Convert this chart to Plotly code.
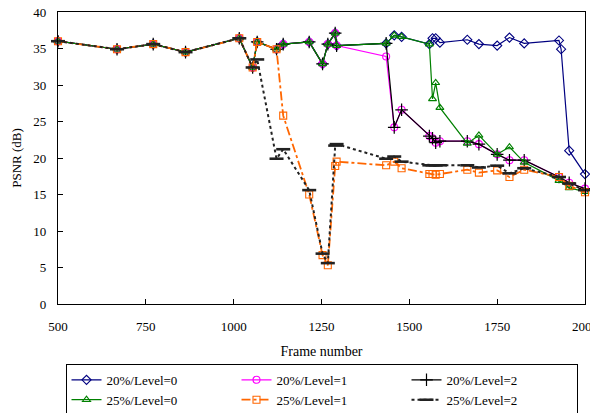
import plotly.graph_objects as go

# Shared leading segment (all series agree until the drops)
frames_common = [500, 668, 771, 863, 1016, 1054]
psnr_common = [36.0, 34.9, 35.6, 34.5, 36.4, 32.4]

frames_a = [1067, 1122, 1141, 1215, 1253, 1268, 1289, 1293, 1434]
psnr_a = [35.9, 34.9, 35.6, 35.9, 32.9, 35.6, 37.1, 35.4, 35.7]

# 20%/Level=0
f_20_0 = [1457, 1478, 1557, 1566, 1575, 1587, 1665, 1698, 1750, 1785, 1827, 1926, 1932, 1955, 2000]
p_20_0 = [36.8, 36.6, 35.6, 36.4, 36.4, 35.8, 36.2, 35.6, 35.4, 36.5, 35.7, 36.1, 34.9, 21.0, 17.8]

# 20%/Level=1 (after 1293)
f_20_1 = [1434, 1457, 1478, 1557, 1566, 1575, 1587, 1665, 1698, 1750, 1785, 1827, 1926, 1955, 2000]
p_20_1 = [33.9, 24.2, 26.6, 23.0, 22.7, 22.1, 22.3, 22.3, 21.9, 20.5, 19.7, 19.7, 17.4, 16.6, 15.8]

# 20%/Level=2 (after 1434)
f_20_2 = [1457, 1478, 1557, 1566, 1575, 1587, 1665, 1698, 1750, 1785, 1827, 1926, 1955, 2000]
p_20_2 = [24.2, 26.6, 23.0, 22.7, 22.1, 22.3, 22.3, 21.9, 20.5, 19.7, 19.7, 17.4, 16.6, 15.8]

# 25%/Level=0 (after 1434)
f_25_0 = [1457, 1478, 1557, 1566, 1575, 1587, 1665, 1698, 1750, 1785, 1827, 1926, 1955, 2000]
p_25_0 = [36.8, 36.6, 35.6, 28.1, 30.3, 26.9, 22.0, 23.1, 20.5, 21.5, 19.4, 16.9, 15.9, 15.4]

# 25%/Level=1 (after 1054)
f_25_1 = [1067, 1122, 1141, 1215, 1253, 1268, 1289, 1293, 1434, 1457, 1478, 1557, 1566, 1575, 1587,
          1665, 1698, 1750, 1785, 1827, 1926, 1955, 2000]
p_25_1 = [35.9, 34.9, 25.8, 15.0, 6.7, 5.3, 18.9, 19.5, 19.0, 19.5, 18.6, 17.8, 17.8, 17.7, 17.8,
          18.4, 18.0, 18.3, 17.4, 18.4, 17.4, 16.2, 15.3]

# 25%/Level=2 (after 1054)
f_25_2 = [1067, 1122, 1141, 1215, 1253, 1268, 1289, 1293, 1434, 1457, 1478, 1557, 1566, 1575, 1587,
          1665, 1698, 1750, 1785, 1827, 1926, 1955, 2000]
p_25_2 = [33.5, 19.9, 21.2, 15.6, 6.9, 5.6, 21.7, 21.9, 19.9, 20.2, 19.5, 19.0, 19.0, 19.0, 19.0,
          19.0, 18.7, 18.95, 17.9, 18.6, 17.4, 16.5, 15.6]

x_ticks = [500, 750, 1000, 1250, 1500, 1750, 2000]
y_ticks = [0, 5, 10, 15, 20, 25, 30, 35, 40]

# Assemble full series
x20_0 = frames_common + frames_a + f_20_0
y20_0 = psnr_common + psnr_a + p_20_0
x20_1 = frames_common + frames_a[:-1] + f_20_1
y20_1 = psnr_common + psnr_a[:-1] + p_20_1
x20_2 = frames_common + frames_a + f_20_2
y20_2 = psnr_common + psnr_a + p_20_2
x25_0 = frames_common + frames_a + f_25_0
y25_0 = psnr_common + psnr_a + p_25_0
x25_1 = frames_common + f_25_1
y25_1 = psnr_common + p_25_1
x25_2 = frames_common + f_25_2
y25_2 = psnr_common + p_25_2

fig = go.Figure()

def add(x, y, name, color, dash, symbol, size, mlw, lw=1.2):
    fig.add_trace(go.Scatter(
        x=x, y=y, name=name, mode="lines+markers",
        line=dict(color=color, width=lw, dash=dash),
        marker=dict(symbol=symbol, size=size, color=color,
                    line=dict(color=color, width=mlw)),
        cliponaxis=False,
    ))

add(x20_0, y20_0, "20%/Level=0", "#000080", "solid", "diamond-open", 7, 1.1)
add(x20_1, y20_1, "20%/Level=1", "#FF00FF", "solid", "circle-open", 7, 1.1)
add(x20_2, y20_2, "20%/Level=2", "#000000", "solid", "cross-thin-open", 9, 1.2)
add(x25_0, y25_0, "25%/Level=0", "#008000", "solid", "triangle-up-open", 7, 1.1)
add(x25_1, y25_1, "25%/Level=1", "#FF6600", "dashdot", "square-open", 7, 1.1, lw=1.8)
add(x25_2, y25_2, "25%/Level=2", "#222222", "dot", "line-ew-open", 10, 2.6, lw=2.0)

font_family = "Liberation Serif"

fig.update_layout(
    width=590, height=413,
    margin=dict(l=58, r=5, t=12, b=109, autoexpand=False),
    paper_bgcolor="white", plot_bgcolor="white",
    font=dict(family=font_family, size=13, color="black"),
    showlegend=True,
    legend=dict(
        orientation="h", x=0.5, xanchor="center", y=-0.205, yanchor="top",
        bordercolor="black", borderwidth=1, bgcolor="white",
        entrywidth=125, entrywidthmode="pixels",
        font=dict(family=font_family, size=13, color="black"),
        tracegroupgap=0, itemsizing="trace",
    ),
)

fig.update_xaxes(
    range=[500, 2000], tickvals=x_ticks, ticktext=[str(v) for v in x_ticks],
    ticks="inside", ticklen=5, tickcolor="black", tickwidth=1,
    showline=True, linecolor="black", linewidth=1.2, mirror=True,
    showgrid=False, zeroline=False, automargin=False,
    ticklabelstandoff=10, ticklabeloverflow="allow",
    title=dict(text="Frame number", standoff=13,
               font=dict(family=font_family, size=14)),
    tickfont=dict(family=font_family, size=13),
)
fig.update_yaxes(
    range=[0, 40], tickvals=y_ticks,
    ticks="inside", ticklen=5, tickcolor="black", tickwidth=1,
    showline=True, linecolor="black", linewidth=1.2, mirror=True,
    showgrid=False, zeroline=False, automargin=False,
    ticklabelstandoff=8, ticklabeloverflow="allow",
    title=dict(text="PSNR (dB)", standoff=8,
               font=dict(family=font_family, size=13)),
    tickfont=dict(family=font_family, size=13),
)

# remove the default 8px page margin so the figure fills the window exactly
fig.write_html("out.html", config={"displayModeBar": False},
               post_script="document.body.style.margin='0px';")
